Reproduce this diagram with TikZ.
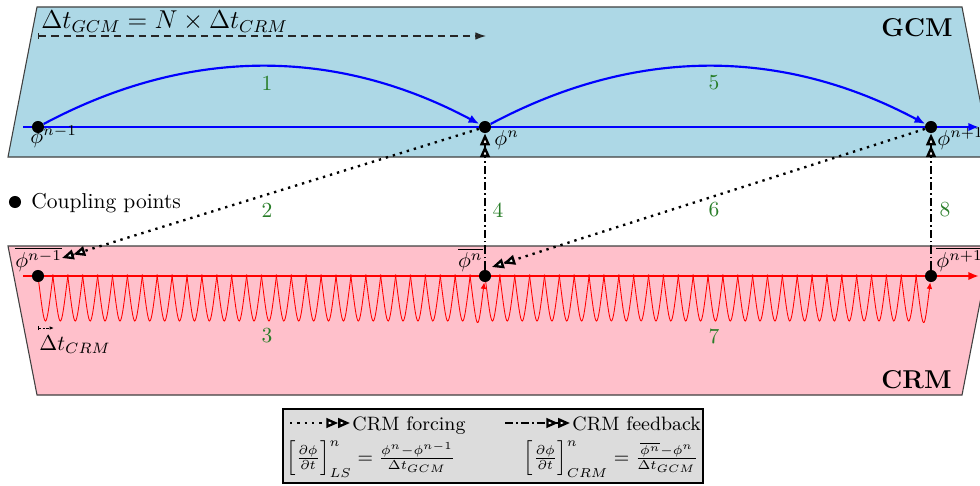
\documentclass[tikz,border=0pt]{standalone}
\usepackage{amsmath}
\usetikzlibrary{arrows.meta}
\definecolor{gcmblue}{HTML}{ADD8E6}
\definecolor{crmpink}{HTML}{FFC0CB}
\definecolor{numgreen}{RGB}{40,125,40}
\definecolor{legendgray}{HTML}{DCDCDC}
\begin{document}
\begin{tikzpicture}[x=0.465pt,y=-0.465pt,
  band/.style={draw=black!75, line width=0.5pt},
  cpt/.style={circle, fill=black, inner sep=0pt, minimum size=5.6pt},
  num/.style={text=numgreen, inner sep=0pt},
  lbl/.style={inner sep=0pt},
  dtip/.style={-{Triangle[fill=white,length=5.5pt,width=4.5pt,line width=1.1pt] Triangle[fill=white,length=5.5pt,width=4.5pt,line width=1.1pt]}},
  forcing/.style={line width=1.1pt, dash pattern=on 1.1pt off 2.3pt, dtip},
  feedback/.style={line width=1pt, dash pattern=on 3.8pt off 1.4pt on 0.8pt off 1.4pt, dtip},
  gcmline/.style={blue, line width=1pt, -{Latex[length=5pt,width=4pt]}},
  crmline/.style={red, line width=1pt, -{Latex[length=5pt,width=4pt]}},
  loopline/.style={red, line width=0.4pt},
  looparrow/.style={red, line width=0.4pt, -{Latex[length=3pt,width=2.6pt]}},
  timearrow/.style={black!85, line width=0.5pt, dash pattern=on 3.5pt off 2.3pt, {Bar[width=3pt]}-{Latex[length=5pt,width=3.5pt]}},
  smallarrow/.style={black, line width=0.4pt, dash pattern=on 1pt off 0.8pt, {Bar[width=2pt]}-{Latex[length=2pt,width=1.6pt]}}
]
\clip (0,0) rectangle (980,485);
\useasboundingbox (0,0) rectangle (980,485);

% bands
\draw[band, fill=gcmblue] (37,7) -- (962,7) -- (991,157) -- (8,157) -- cycle;
\draw[band, fill=crmpink] (8,246) -- (991,246) -- (962,395) -- (37,395) -- cycle;

% band titles
\node[lbl, anchor=base east, font=\large\bfseries] (gcmt) at (953,37) {GCM};
\node[lbl, anchor=base east, font=\large\bfseries] (crmt) at (952,388) {CRM};

% time step annotation
\coordinate (ta) at (38,36);
\coordinate (tb) at (486,36);
\draw[timearrow] (ta) -- (tb);
\node[lbl, anchor=base west, font=\large] (dteq) at (41,29) {$\Delta t_{GCM} = N \times \Delta t_{CRM}$};

% CRM loops (arcs between sub-steps)
\foreach \i in {0,...,28}{
  \draw[loopline] ({38+\i*14.9},276) .. controls ({38+(\i+0.5)*14.9},336) .. ({38+(\i+1)*14.9},276);
  \draw[loopline] ({485+\i*14.867},276) .. controls ({485+(\i+0.5)*14.867},336) .. ({485+(\i+1)*14.867},276);
}

% axes
\coordinate (gs) at (23,127);
\coordinate (ge) at (979,127);
\coordinate (cs) at (23,276);
\coordinate (ce) at (979,276);
\draw[gcmline] (gs) -- (ge);
\draw[crmline] (cs) -- (ce);

% small red dots
\foreach \i in {1,...,29}{
  \fill[red] ({38+\i*14.9},276) circle (0.8pt);
  \fill[red] ({485+\i*14.867},276) circle (0.8pt);
}

% coupling points
\node[cpt] (g0) at (38,127) {};
\node[cpt] (g1) at (485,127) {};
\node[cpt] (g2) at (931,127) {};
\node[cpt] (c0) at (38,276) {};
\node[cpt] (c1) at (485,276) {};
\node[cpt] (c2) at (931,276) {};

% last loops with arrows
\draw[looparrow] ({38+29*14.9},276) .. controls ({38+29.5*14.9},336) .. (c1);
\draw[looparrow] ({485+29*14.867},276) .. controls ({485+29.5*14.867},336) .. (c2);

% GCM arcs
\draw[gcmline] (g0) .. controls +(150,-80) and +(-150,-80) .. (g1);
\draw[gcmline] (g1) .. controls +(150,-80) and +(-150,-80) .. (g2);

% forcing and feedback
\coordinate (f0) at (62,258);
\coordinate (f1) at (492,267);
\draw[forcing] (g1) -- (f0);
\draw[forcing] (g2) -- (f1);
\draw[feedback] (c1) -- (g1);
\draw[feedback] (c2) -- (g2);

% phi labels
\node[lbl, anchor=base west] (p0) at (30,143) {$\phi^{n-1}$};
\node[lbl, anchor=base west] (p1) at (494,145) {$\phi^{n}$};
\node[lbl, anchor=base west] (p2) at (937,145) {$\phi^{n+1}$};
\node[lbl, anchor=base west] (q0) at (15,267) {$\overline{\phi^{n-1}}$};
\node[lbl, anchor=base east] (q1) at (483,267) {$\overline{\phi^{n}}$};
\node[lbl, anchor=base west] (q2) at (936,267) {$\overline{\phi^{n+1}}$};

% step numbers
\node[num] (n1) at (267,83) {1};
\node[num] (n5) at (714,83) {5};
\node[num] (n2) at (267,210) {2};
\node[num] (n6) at (714,210) {6};
\node[num] (n4) at (498,210) {4};
\node[num] (n8) at (945,210) {8};
\node[num] (n3) at (267,336) {3};
\node[num] (n7) at (714,336) {7};

% CRM time step
\coordinate (sa) at (38,328);
\coordinate (sb) at (54,328);
\draw[smallarrow] (sa) -- (sb);
\node[lbl, anchor=base west] (dtc) at (39,350) {$\Delta t_{CRM}$};

% coupling points legend
\node[cpt] (cpd) at (15,202) {};
\node[lbl, anchor=base west] (cptxt) at (31,208) {Coupling points};

% legend box
\draw[fill=legendgray, line width=1pt] (283,409) rectangle (703,483);
\coordinate (la) at (290,423);
\coordinate (lb) at (350,423);
\draw[forcing] (la) -- (lb);
\node[lbl, anchor=base west, font=\small] (lt1) at (352,430) {CRM forcing};
\coordinate (lc) at (505,423);
\coordinate (ld) at (570,423);
\draw[feedback] (lc) -- (ld);
\node[lbl, anchor=base west, font=\small] (lt2) at (572,430) {CRM feedback};
\node[lbl, font=\small] (e1) at (371,459) {$\Bigl[\frac{\partial\phi}{\partial t}\Bigr]^n_{LS} = \frac{\phi^n-\phi^{n-1}}{\Delta t_{GCM}}$};
\node[lbl, font=\small] (e2) at (611,459) {$\Bigl[\frac{\partial\phi}{\partial t}\Bigr]^n_{CRM} = \frac{\overline{\phi^n}-\phi^{n}}{\Delta t_{GCM}}$};
\end{tikzpicture}
\end{document}
